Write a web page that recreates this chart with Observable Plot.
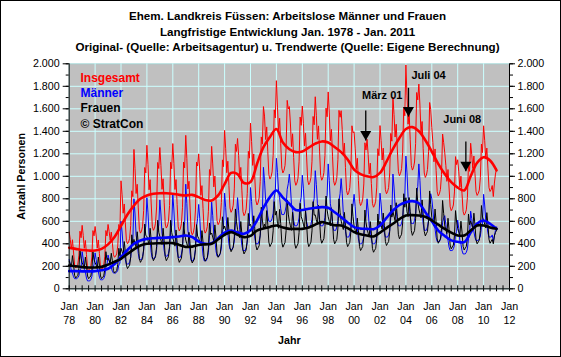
<!DOCTYPE html>
<html><head><meta charset="utf-8">
<script src="https://cdn.jsdelivr.net/npm/d3@7"></script>
<script src="https://cdn.jsdelivr.net/npm/@observablehq/plot@0.6"></script>
<style>
body{margin:0;background:#fff;}
#chart{position:relative;width:561px;height:357px;overflow:hidden;background:#fff;font-family:"Liberation Sans",Arial,sans-serif;}
#border{position:absolute;left:0;top:0;width:561px;height:357px;box-sizing:border-box;border:1px solid #000;pointer-events:none;}
#title{position:absolute;left:14px;right:0;top:8px;text-align:center;font-weight:bold;font-size:11.6px;line-height:15.5px;color:#000;white-space:nowrap;}
#plot{position:absolute;left:0;top:56px;}
</style></head>
<body>
<div id="chart">
  <div id="title">Ehem. Landkreis Füssen: Arbeitslose Männer und Frauen<br>Langfristige Entwicklung Jan. 1978 - Jan. 2011<br>Original- (Quelle: Arbeitsagentur) u. Trendwerte (Quelle: Eigene Berechnung)</div>
  <div id="plot"></div>
  <div id="border"></div>
</div>
<script>
// ---- data: monthly values Jan 1978 .. Jan 2011 ----
const startYear = 1978;
const insgesamt = [
 505,438,353,436,327,210,185,198,219,299,512,454, // 1978
 564,475,360,430,306,184,160,172,197,283,517,471, // 1979
 554,470,362,434,314,194,170,182,206,290,518,470, // 1980
 572,510,432,504,406,302,280,291,310,381,572,522, // 1981
 960,835,672,754,588,430,400,415,449,562,871,819, // 1982
 1239,1070,847,929,719,529,495,512,556,695,1078,1030, // 1983
 1276,1105,880,970,754,556,520,538,583,727,1123,1069, // 1984
 1256,1095,884,978,770,576,540,558,601,741,1125,1067, // 1985
 1291,1115,883,971,751,551,515,533,579,725,1127,1075, // 1986
 1364,1160,888,956,718,514,480,497,548,701,1126,1092, // 1987
 1199,1040,831,917,715,529,495,512,554,689,1060,1008, // 1988
 1266,1110,906,1002,798,606,570,588,630,768,1146,1086, // 1989
 1408,1245,1032,1134,920,718,680,699,743,888,1285,1221, // 1990
 1336,1183,982,1079,877,686,650,668,710,847,1222,1161, // 1991
 1473,1310,1097,1199,985,783,745,764,808,953,1350,1286, // 1992
 1620,1535,1327,1439,1223,1015,975,995,1039,1187,1591,1519, // 1993
 1850,1615,1398,1516,1290,1072,1030,1051,1097,1252,1675,1599, // 1994
 1620,1465,1264,1378,1166,960,920,940,983,1129,1527,1453, // 1995
 1625,1470,1269,1383,1171,965,925,945,988,1134,1532,1458, // 1996
 1707,1543,1329,1448,1224,1007,965,986,1032,1186,1606,1529, // 1997
 1750,1563,1316,1417,1179,960,920,940,990,1149,1586,1525, // 1998
 1583,1415,1195,1295,1077,873,835,854,899,1046,1449,1387, // 1999
 1396,1250,1060,1160,964,776,740,758,798,932,1298,1234, // 2000
 1329,1195,1021,1117,935,759,725,742,779,904,1245,1183, // 2001
 1451,1318,1145,1250,1064,881,845,863,901,1030,1381,1312, // 2002
 1705,1550,1349,1463,1251,1045,1005,1025,1068,1214,1612,1538, // 2003
 1990,1715,1463,1571,1325,1097,1055,1076,1127,1292,1745,1679, // 2004
 1820,1633,1386,1487,1249,1030,990,1010,1060,1219,1656,1595, // 2005
 1433,1300,1129,1243,1053,863,825,844,882,1015,1376,1300, // 2006
 1209,1098,955,1060,896,729,695,712,745,861,1175,1104, // 2007
 1147,1040,903,1001,845,687,655,671,702,812,1110,1044, // 2008
 1294,1195,1070,1180,1026,864,830,847,877,988,1287,1211, // 2009
 1449,1320,1153,1251,1073,899,865,882,918,820,940,1020, // 2010
 1070 // 2011
];
const maenner = [
 260,218,158,141,107,90,90,90,99,116,167,184,
 330,265,174,148,96,70,70,70,83,109,187,213,
 320,260,176,152,104,80,80,80,92,116,188,212,
 300,260,204,188,156,140,140,140,148,164,212,228,
 600,505,372,334,258,220,220,220,239,277,391,429,
 800,665,476,422,314,260,260,260,287,341,503,557,
 810,675,486,432,324,270,270,270,297,351,513,567,
 790,665,490,440,340,290,290,290,315,365,515,565,
 840,700,504,448,336,280,280,280,308,364,532,588,
 930,760,522,454,318,250,250,250,284,352,556,624,
 750,625,450,400,300,250,250,250,275,325,475,525,
 770,650,482,434,338,290,290,290,314,362,506,554,
 850,725,550,500,400,350,350,350,375,425,575,625,
 810,693,528,481,387,340,340,340,364,411,552,599,
 900,775,600,550,450,400,400,400,425,475,625,675,
 1080,960,792,744,648,600,600,600,624,672,816,864,
 1160,1035,860,810,710,660,660,660,685,735,885,935,
 1020,905,744,698,606,560,560,560,583,629,767,813,
 1010,895,734,688,596,550,550,550,573,619,757,803,
 1050,928,756,707,609,560,560,560,585,634,781,830,
 1110,963,756,697,579,520,520,520,550,609,786,845,
 980,850,668,616,512,460,460,460,486,538,694,746,
 840,730,576,532,444,400,400,400,422,466,598,642,
 800,700,560,520,440,400,400,400,420,460,580,620,
 850,753,616,577,499,460,460,460,480,519,636,675,
 1020,905,744,698,606,560,560,560,583,629,767,813,
 1180,1030,820,760,640,580,580,580,610,670,850,910,
 1110,963,756,697,579,520,520,520,550,609,786,845,
 800,705,572,534,458,420,420,420,439,477,591,629,
 650,573,464,433,371,340,340,340,356,387,480,511,
 610,535,430,400,340,310,310,310,325,355,445,475,
 690,625,534,508,456,430,430,430,443,469,547,573,
 840,745,612,574,498,460,460,460,479,420,470,520,
 550
];
const frauen = [
 245,220,195,295,220,120,95,108,120,183,345,270,
 234,210,186,282,210,114,90,102,114,174,330,258,
 234,210,186,282,210,114,90,102,114,174,330,258,
 272,250,228,316,250,162,140,151,162,217,360,294,
 360,330,300,420,330,210,180,195,210,285,480,390,
 439,405,371,507,405,269,235,252,269,354,575,473,
 466,430,394,538,430,286,250,268,286,376,610,502,
 466,430,394,538,430,286,250,268,286,376,610,502,
 451,415,379,523,415,271,235,253,271,361,595,487,
 434,400,366,502,400,264,230,247,264,349,570,468,
 449,415,381,517,415,279,245,262,279,364,585,483,
 496,460,424,568,460,316,280,298,316,406,640,532,
 558,520,482,634,520,368,330,349,368,463,710,596,
 526,490,454,598,490,346,310,328,346,436,670,562,
 573,535,497,649,535,383,345,364,383,478,725,611,
 540,575,535,695,575,415,375,395,415,515,775,655,
 690,580,538,706,580,412,370,391,412,517,790,664,
 600,560,520,680,560,400,360,380,400,500,760,640,
 615,575,535,695,575,415,375,395,415,515,775,655,
 657,615,573,741,615,447,405,426,447,552,825,699,
 640,600,560,720,600,440,400,420,440,540,800,680,
 603,565,527,679,565,413,375,394,413,508,755,641,
 556,520,484,628,520,376,340,358,376,466,700,592,
 529,495,461,597,495,359,325,342,359,444,665,563,
 601,565,529,673,565,421,385,403,421,511,745,637,
 685,645,605,765,645,485,445,465,485,585,845,725,
 810,685,643,811,685,517,475,496,517,622,895,769,
 710,670,630,790,670,510,470,490,510,610,870,750,
 633,595,557,709,595,443,405,424,443,538,785,671,
 559,525,491,627,525,389,355,372,389,474,695,593,
 537,505,473,601,505,377,345,361,377,457,665,569,
 604,570,536,672,570,434,400,417,434,519,740,638,
 609,575,541,677,575,439,405,422,439,400,470,500,
 520
];
// ---- trend values, half-yearly 1978.0 .. 2011.0 ----
const trendInsgesamt = [365,355,345,340,340,355,395,460,560,660,740,800,830,845,850,850,845,835,830,835,815,790,785,830,930,1030,1020,940,950,1110,1260,1350,1420,1300,1240,1215,1220,1255,1290,1310,1300,1260,1215,1150,1060,1020,1000,993,1030,1130,1244,1340,1420,1437,1400,1320,1220,1111,1020,948,900,874,1000,1120,1170,1140,1052];
const trendMaenner = [157,157,155,155,157,165,178,220,281,345,400,430,444,450,453,455,459,465,474,460,420,400,405,450,500,518,500,489,520,607,720,815,874,810,756,700,700,711,720,726,720,680,637,590,548,535,533,530,563,630,696,745,770,779,760,681,600,518,470,430,418,415,500,580,607,578,533];
const trendFrauen = [207,200,193,190,190,195,215,240,267,310,350,385,400,403,405,406,406,390,372,375,390,395,400,440,480,504,480,459,470,518,535,550,563,545,533,533,533,545,570,593,580,565,563,540,504,485,474,465,500,540,578,620,652,655,652,640,607,570,533,500,474,474,518,563,563,545,533];

// ---- scales, ticks, labels ----
const xDomain = [1978, 2012];
const yDomain = [0, 2000];
const xMajorTicks = d3.range(1978, 2013, 2);
const xMinorTicks = d3.range(1978, 2012.01, 0.5);
const yMajorTicks = d3.range(0, 2001, 200);
const yMinorTicks = d3.range(0, 2001, 100);

const legendLabels = ["Insgesamt", "Männer", "Frauen", "© StratCon"];
const legendColors = ["#ff0000", "#0000ff", "#000000", "#000000"];
const legendOffsets = [9.4, 24.7, 39.4, 55.7];

const noteLabels = ["März 01", "Juli 04", "Juni 08"];
const noteX = [2002.17, 2005.75, 2008.35];
const noteY = [1756, 1932, 1547];
const arrowX = [2000.9, 2004.2, 2008.63];
const arrowFrom = [1585, 1787, 1309];
const arrowTo = [1318, 1531, 1045];

const de = d3.formatLocale({decimal: ",", thousands: ".", grouping: [3], currency: ["", " €"]});
const fmt = de.format(",");

const monthly = arr => arr.map((v, i) => ({t: startYear + i / 12, v}));
const halfYearly = arr => arr.map((v, i) => ({t: startYear + i / 2, v}));

const series = [
  {raw: insgesamt, trend: trendInsgesamt, color: "#ff0000"},
  {raw: maenner, trend: trendMaenner, color: "#0000ff"},
  {raw: frauen, trend: trendFrauen, color: "#000000"}
];

const idx3 = [0, 1, 2];

const chart = Plot.plot({
  width: 561, height: 301,
  marginTop: 7.3, marginRight: 52, marginBottom: 68.7, marginLeft: 68.7,
  style: {fontFamily: '"Liberation Sans", Arial, sans-serif', fontSize: "10.7px", color: "#000", background: "transparent", overflow: "visible"},
  x: {domain: xDomain},
  y: {domain: yDomain},
  marks: [
    Plot.frame({fill: "#c0c0c0", stroke: "#808080"}),
    Plot.gridX(xMajorTicks, {stroke: "#ccffff", strokeOpacity: 1}),
    Plot.gridY(yMajorTicks, {stroke: "#ccffff", strokeOpacity: 1}),
    ...series.map(s => Plot.line(monthly(s.raw), {x: "t", y: "v", stroke: s.color, strokeWidth: 1})),
    ...series.map(s => Plot.line(halfYearly(s.trend), {x: "t", y: "v", stroke: s.color, strokeWidth: 2.6, curve: "catmull-rom"})),
    // annotations
    Plot.link(idx3, {x1: i => arrowX[i], x2: i => arrowX[i], y1: i => arrowFrom[i], y2: i => arrowTo[i], stroke: "#000", strokeWidth: 1.3}),
    Plot.dot(idx3, {x: i => arrowX[i], y: i => arrowTo[i], symbol: "triangle", r: 4.1, rotate: 180, fill: "#000", stroke: "none", dy: -6.4}),
    Plot.text(idx3, {x: i => noteX[i], y: i => noteY[i], text: i => noteLabels[i], lineAnchor: "top", fontWeight: "bold", fontSize: 11, fill: "#000"}),
    // legend inside plot area
    ...legendLabels.map((lab, i) => Plot.text([lab], {frameAnchor: "top-left", text: d => d, dx: 11.3, dy: legendOffsets[i], lineAnchor: "top", textAnchor: "start", fill: legendColors[i], fontWeight: "bold", fontSize: 12})),
    // axes
    Plot.axisY(yMinorTicks, {anchor: "left", tickSize: 3, tickFormat: () => "", label: null}),
    Plot.axisY(yMajorTicks, {anchor: "left", tickSize: 6, tickPadding: 3.5, tickFormat: fmt, label: null}),
    Plot.axisY(yMinorTicks, {anchor: "right", tickSize: 3, tickFormat: () => "", label: null}),
    Plot.axisY(yMajorTicks, {anchor: "right", tickSize: 5, tickPadding: 3, tickFormat: fmt, label: null}),
    Plot.axisY([], {anchor: "left", label: "Anzahl Personen", labelAnchor: "center", labelArrow: "none", labelOffset: 52, fontWeight: "bold"}),
    Plot.axisX(xMinorTicks, {anchor: "bottom", tickSize: 3, tickFormat: () => "", label: null}),
    Plot.axisX(xMinorTicks, {anchor: "bottom", tickSize: -3, tickFormat: () => "", label: null}),
    Plot.axisX(xMajorTicks, {anchor: "bottom", tickSize: 0, tickPadding: 11.7, lineHeight: 1.3, tickFormat: d => "Jan\n" + String(d % 100).padStart(2, "0"), label: null}),
    Plot.axisX([], {anchor: "bottom", label: "Jahr", labelAnchor: "center", labelArrow: "none", labelOffset: 55, fontWeight: "bold"}),
    Plot.ruleX(xDomain, {stroke: "#000"}),
    Plot.ruleY([yDomain[0]], {stroke: "#000"})
  ]
});
document.getElementById("plot").append(chart);
</script>
</body></html>
